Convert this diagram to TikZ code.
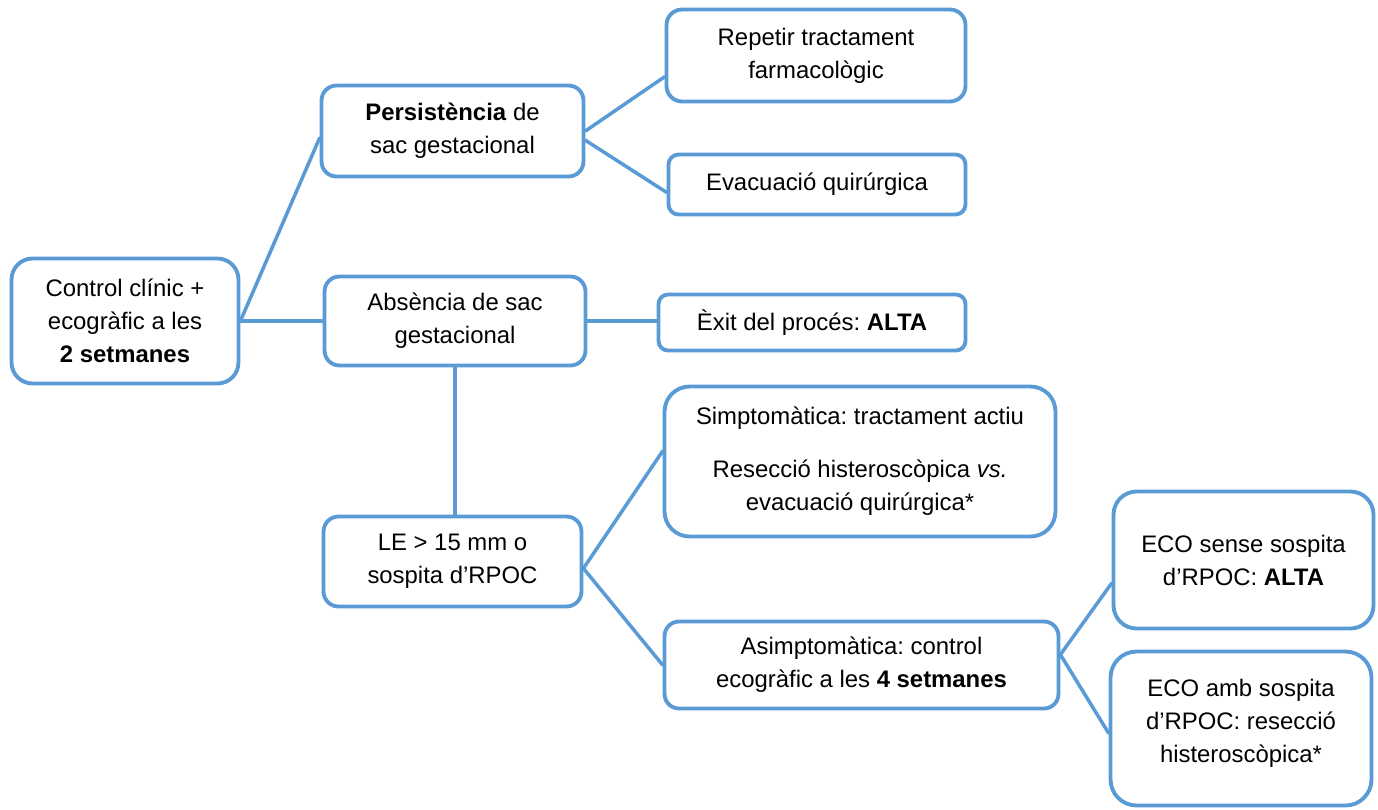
\documentclass[tikz,border=0pt]{standalone}
\usepackage{fontspec}
\setmainfont{Liberation Sans}
\usetikzlibrary{positioning}
\definecolor{boxblue}{HTML}{5B9BD5}
\frenchspacing

\begin{document}
\begin{tikzpicture}[x=0.02cm, y=-0.02cm, line cap=round, line join=round,
	stage/.style={draw=boxblue, line width=2.2pt, rounded corners=#1, fill=white,
		align=center, inner sep=0pt, font=\fontsize{13.6}{18.8}\selectfont},
	stage/.default=0.3cm,
	link/.style={draw=boxblue, line width=2pt}]
\useasboundingbox (0,0) rectangle (1378,809);
%========================
% Left: first control
%========================
\node[stage=0.42cm, minimum width=4.54cm, minimum height=2.5cm] (control) at (125,321)
	{Control clínic +\\ ecogràfic a les\\ \textbf{2 setmanes}};

%========================
% Middle column
%========================
\node[stage, minimum width=5.24cm, minimum height=1.82cm] (persist) at (452.5,131)
	{\textbf{Persistència} de\\ sac gestacional};
\node[stage, minimum width=5.22cm, minimum height=1.78cm] (absence) at (455,321)
	{Absència de sac\\ gestacional};
\node[stage, minimum width=5.16cm, minimum height=1.8cm] (rpoc) at (452.5,561.5)
	{LE > 15 mm o\\ sospita d’RPOC};

%========================
% Right column
%========================
\node[stage=0.31cm, minimum width=5.98cm, minimum height=1.84cm] (repeat) at (816,55.5)
	{Repetir tractament\\ farmacològic};
\node[stage=0.2cm, minimum width=5.94cm, minimum height=1.2cm] (surgery) at (817,184.5)
	{Evacuació quirúrgica};
\node[stage=0.19cm, minimum width=6.14cm, minimum height=1.12cm] (success) at (812,322.5)
	{Èxit del procés: \textbf{ALTA}};
\node[stage=0.5cm, minimum width=7.82cm, minimum height=3.0cm] (sympt) at (860,461.5)
	{Simptomàtica: tractament actiu\\[0.4cm]
	 Resecció histeroscòpica \textit{vs.}\\ evacuació quirúrgica*};
\node[stage=0.29cm, minimum width=7.88cm, minimum height=1.74cm] (asympt) at (861.5,665)
	{Asimptomàtica: control\\ ecogràfic a les \textbf{4 setmanes}};

% follow-up after 4 weeks
\node[stage=0.46cm, minimum width=5.2cm, minimum height=2.74cm] (ecoalta) at (1243.5,560)
	{ECO sense sospita\\ d’RPOC: \textbf{ALTA}};
\node[stage=0.52cm, minimum width=5.22cm, minimum height=3.08cm] (ecoresec) at (1241,728.5)
	{ECO amb sospita\\ d’RPOC: resecció\\ histeroscòpica*\\[-0.36cm] \mbox{}};

% connectors
\draw[link] (control.east) -- (persist.183);
\draw[link] (control.east) -- (absence.west);
\draw[link] (persist.east) -- (repeat.188);
\draw[link] (persist.-4) -- (surgery.183);
\draw[link] (absence.east) -- (absence.east -| success.west);
\draw[link] (absence.south) -- (absence.south |- rpoc.north);
\draw[link] (rpoc.-3) -- (sympt.177);
\draw[link] (rpoc.-3) -- (asympt.west);
\draw[link] (asympt.3) -- (ecoalta.190);
\draw[link] (asympt.3) -- (ecoresec.182);
\end{tikzpicture}
\end{document}
